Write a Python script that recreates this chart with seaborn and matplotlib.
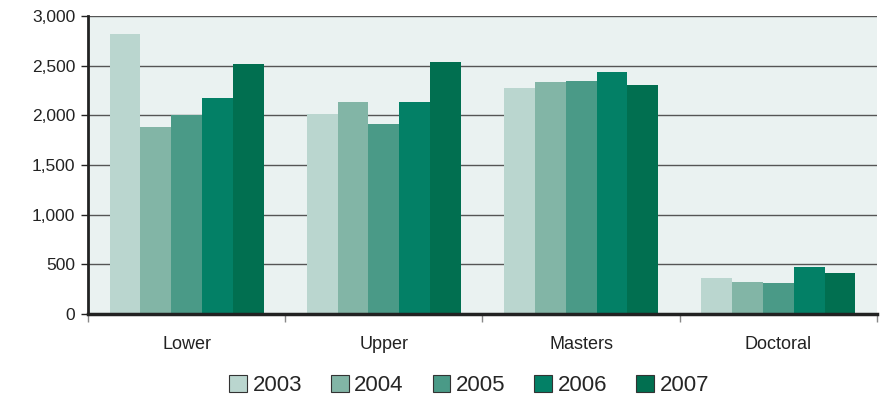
import numpy as np
import matplotlib
matplotlib.use("Agg")
import matplotlib.pyplot as plt
import seaborn as sns
import pandas as pd

levels = ["Lower", "Upper", "Masters", "Doctoral"]
years = ["2003", "2004", "2005", "2006", "2007"]
v2003 = [2820, 2010, 2275, 362]
v2004 = [1880, 2135, 2335, 322]
v2005 = [2000, 1910, 2345, 312]
v2006 = [2175, 2135, 2435, 473]
v2007 = [2520, 2540, 2305, 413]
colors = ["#bad6cf", "#82b5a6", "#4a9a87", "#038066", "#016f50"]

rows = []
for yr, vals in zip(years, [v2003, v2004, v2005, v2006, v2007]):
    for lvl, v in zip(levels, vals):
        rows.append({"Level": lvl, "Year": yr, "Count": v})
df = pd.DataFrame(rows)

sns.set_style("white")
plt.rcParams["font.family"] = ["Liberation Sans", "DejaVu Sans"]

fig = plt.figure(figsize=(8.94, 4.0), dpi=100)
ax = fig.add_axes([0.0984, 0.215, 0.8826, 0.745])
sns.barplot(data=df, x="Level", y="Count", hue="Year", order=levels,
            hue_order=years, palette=colors, width=0.78, saturation=1,
            linewidth=0, ax=ax)

ax.set_facecolor("#eaf2f1")
ax.set_xlim(-0.5, 3.5)
ax.set_ylim(0, 3000)
ax.set_yticks(np.arange(0, 3001, 500))
ax.set_yticklabels([f"{t:,}" for t in range(0, 3001, 500)], fontsize=12.5, color="#222222")
ax.yaxis.grid(True, color="#555555", linewidth=1)
ax.set_axisbelow(True)
ax.tick_params(axis="y", length=5, width=1, color="#222222", left=True, pad=4)

ax.set_xticks(range(4))
ax.set_xticklabels(levels, fontsize=13, color="#222222")
ax.set_xticks([-0.5, 0.5, 1.5, 2.5, 3.5], minor=True)
ax.tick_params(axis="x", which="major", length=0, pad=16)
ax.tick_params(axis="x", which="minor", length=6, width=1, color="#888888", bottom=True)
ax.set_xlabel("")
ax.set_ylabel("")

for s in ["top", "right"]:
    ax.spines[s].set_visible(False)
ax.spines["left"].set_linewidth(2)
ax.spines["left"].set_color("#222222")
ax.spines["bottom"].set_linewidth(2.5)
ax.spines["bottom"].set_color("#222222")

handles, labs = ax.get_legend_handles_labels()
for h in handles:
    h.set_edgecolor("#333333")
    h.set_linewidth(0.8)
ax.legend(handles, labs, loc="upper center", bbox_to_anchor=(0.483, -0.152),
          ncol=5, frameon=False, fontsize=16, handlelength=0.8,
          handleheight=0.8, handletextpad=0.25, columnspacing=1.3,
          borderpad=0.2)

fig.savefig("out.png", dpi=100)
